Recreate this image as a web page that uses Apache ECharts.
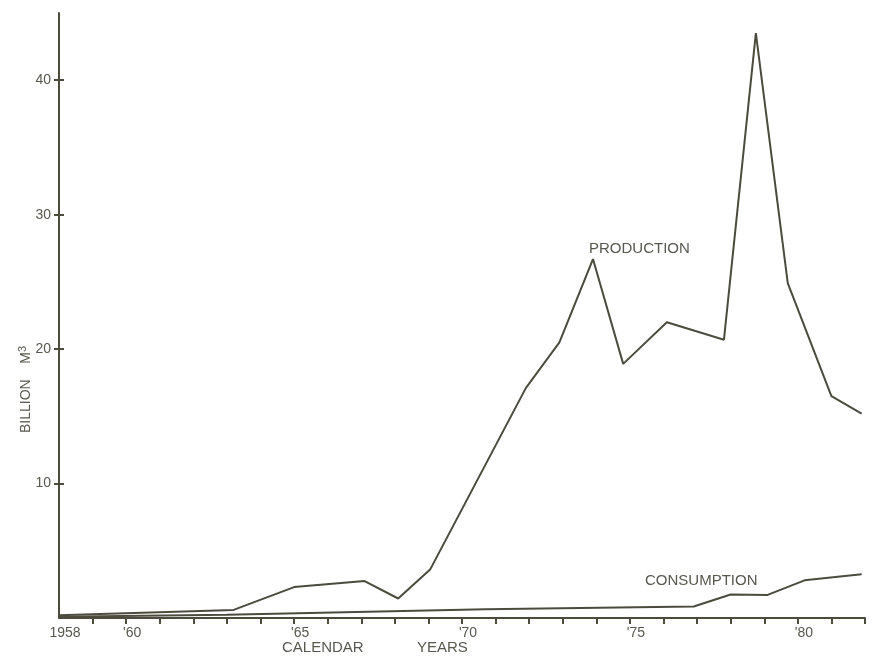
<!DOCTYPE html>
<html>
<head>
<meta charset="utf-8">
<script src="https://cdn.jsdelivr.net/npm/echarts@6/dist/echarts.min.js"></script>
<style>
html,body{margin:0;padding:0;background:#fff;}
#c{width:872px;height:656px;}
</style>
</head>
<body>
<div id="c"></div>
<script>
// Data (year, billion m3)
var productionYears = [1958, 1963.2, 1965.0, 1967.1, 1968.1, 1969.05, 1971.9, 1972.9, 1973.9, 1974.8, 1976.1, 1977.8, 1978.75, 1979.7, 1981.0, 1981.9];
var productionValues = [0.2, 0.6, 2.3, 2.75, 1.45, 3.6, 17.1, 20.5, 26.7, 18.9, 22.0, 20.7, 43.5, 24.9, 16.5, 15.2];

var consumptionYears = [1958, 1963, 1970.7, 1976.9, 1978.0, 1979.1, 1980.2, 1981.9];
var consumptionValues = [0.1, 0.25, 0.65, 0.85, 1.75, 1.72, 2.8, 3.25];

var xLabelYears = [1958, 1960, 1965, 1970, 1975, 1980];
var xLabelTexts = ['1958', "'60", "'65", "'70", "'75", "'80"];
var xTickYears = [1959,1960,1961,1962,1963,1964,1965,1966,1967,1968,1969,1970,1971,1972,1973,1974,1975,1976,1977,1978,1979,1980,1981,1982];
var yTickValues = [10, 20, 30, 40];

function pairs(xs, ys) { return xs.map(function (x, i) { return [x, ys[i]]; }); }

var ink = '#4b4b3e';
var textCol = '#58584f';
var font = 'Liberation Sans, Arial, Helvetica, sans-serif';

var chart = echarts.init(document.getElementById('c'), null, {renderer: 'canvas'});
chart.setOption({
  backgroundColor: '#ffffff',
  animation: false,
  grid: {left: 59, right: 7, top: 13, bottom: 38, containLabel: false},
  xAxis: {
    type: 'value', min: 1958, max: 1982, interval: 1,
    splitLine: {show: false},
    axisLine: {show: true, lineStyle: {color: ink, width: 2}},
    axisTick: {show: true, length: 6, lineStyle: {color: ink, width: 2}, customValues: xTickYears},
    axisLabel: {
      show: true, margin: 8, color: textCol, fontSize: 14, fontFamily: font,
      padding: [0, 0, 0, 12],
      customValues: xLabelYears,
      formatter: function (v) { var i = xLabelYears.indexOf(Math.round(v)); return i >= 0 ? xLabelTexts[i] : ''; }
    }
  },
  yAxis: [{
    type: 'value', min: 0, max: 45, interval: 10,
    splitLine: {show: false},
    axisLine: {show: true, onZero: false, lineStyle: {color: ink, width: 2}},
    axisTick: {show: true, length: 5, lineStyle: {color: ink, width: 2}, customValues: yTickValues},
    axisLabel: {show: true, margin: 8, color: textCol, fontSize: 14, fontFamily: font, customValues: yTickValues}
  }, {
    type: 'value', min: 0, max: 45, interval: 10, position: 'left',
    splitLine: {show: false},
    axisLine: {show: false},
    axisTick: {show: true, inside: true, length: 5, lineStyle: {color: ink, width: 2}, customValues: yTickValues},
    axisLabel: {show: false}
  }],
  series: [{
    name: 'PRODUCTION', type: 'line', data: pairs(productionYears, productionValues),
    showSymbol: false, symbol: 'none', lineStyle: {color: ink, width: 2}, z: 3
  }, {
    name: 'CONSUMPTION', type: 'line', data: pairs(consumptionYears, consumptionValues),
    showSymbol: false, symbol: 'none', lineStyle: {color: ink, width: 2}, z: 3
  }],
  graphic: [
    {type: 'text', left: 589, top: 241, style: {text: 'PRODUCTION', fill: textCol, font: '15px ' + font}},
    {type: 'text', left: 645, top: 573, style: {text: 'CONSUMPTION', fill: textCol, font: '15px ' + font}},
    {type: 'text', left: 282, top: 640, style: {text: 'CALENDAR', fill: textCol, font: '15px ' + font}},
    {type: 'text', left: 417, top: 640, style: {text: 'YEARS', fill: textCol, font: '15px ' + font}},
    {type: 'text', x: 17, y: 433, rotation: Math.PI / 2,
      style: {text: 'BILLION    M{s|3}', fill: textCol, font: '14px ' + font,
        rich: {s: {fontSize: 11, fontFamily: font, fill: textCol, verticalAlign: 'top', padding: [0, 0, 8, 0]}}}}
  ]
});
</script>
</body>
</html>
